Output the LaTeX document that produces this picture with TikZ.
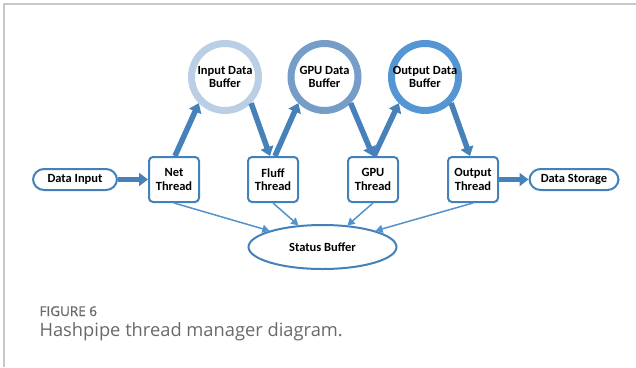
\documentclass[tikz,border=0pt]{standalone}
\usepackage{fontspec}
\setmainfont{Carlito}
\newfontfamily\capfont{Open Sans}
\newfontfamily\capheadfont{Open Sans}[FakeBold=1.2]
\usetikzlibrary{arrows.meta,shapes.geometric}

\definecolor{frameGray}{RGB}{200,200,200}
\definecolor{edgeBlue}{RGB}{68,128,186}
\definecolor{flowBlue}{RGB}{70,130,185}
\definecolor{linkBlue}{RGB}{82,146,206}
\definecolor{ringA}{RGB}{186,206,230}
\definecolor{ringB}{RGB}{118,156,200}
\definecolor{ringC}{RGB}{84,150,212}
\definecolor{capGray}{RGB}{105,105,105}

\tikzset{
  label/.style={font=\bfseries\fontsize{12.5}{13.5}\selectfont, text=black, align=center},
  threadbox/.style={label, draw=edgeBlue, line width=2pt, rounded corners=4pt,
    fill=white, minimum width=50pt, minimum height=45pt, inner sep=0pt},
  endpoint/.style={label, draw=edgeBlue, line width=2pt, rounded corners=11pt,
    fill=white, minimum height=21pt, inner sep=0pt},
  buffer/.style={label, circle, line width=7pt, fill=white,
    minimum size=67pt, inner xsep=-14pt, inner ysep=0pt},
  status/.style={label, ellipse, draw=edgeBlue, line width=2pt, fill=white,
    minimum width=148pt, minimum height=44pt, inner sep=0pt},
  flow/.style={draw=flowBlue, line width=5.5pt,
    -{Triangle[length=9pt,width=13pt]}},
  link/.style={draw=linkBlue, line width=1.5pt,
    -{Triangle[length=7pt,width=8pt]}}
}

\begin{document}
\begin{tikzpicture}[x=1pt,y=-1pt]
  \useasboundingbox (0,0) rectangle (636,367);

  % page frame
  \draw[frameGray, line width=1.2pt] (4,367) -- (4,4) -- (636,4);

  % data buffers
  \node[buffer, draw=ringA] (inbuf)  at (225,77)   {Input Data\\Buffer};
  \node[buffer, draw=ringB] (gpubuf) at (324.5,77) {GPU Data\\Buffer};
  \node[buffer, draw=ringC] (outbuf) at (425,77)   {Output Data\\Buffer};

  % threads
  \node[threadbox] (net)   at (174,179.5) {Net\\Thread};
  \node[threadbox] (fluff) at (273,179.5) {Fluff\\Thread};
  \node[threadbox] (gpu)   at (373,179.5) {GPU\\Thread};
  \node[threadbox] (out)   at (473,179.5) {Output\\Thread};

  % source and sink
  \node[endpoint, minimum width=84pt] (din)  at (75,179.5)  {Data Input};
  \node[endpoint, minimum width=89pt] (dst)  at (574,179.5) {Data Storage};

  % status buffer
  \node[status] (stat) at (322.5,247) {Status Buffer};

  % data flow
  \draw[flow] (din.east) -- (net.west);
  \draw[flow] (out.east) -- (dst.west);
  \draw[flow] ([xshift=1pt]net.north)   -- (inbuf.225);
  \draw[flow] (inbuf.315)               -- ([xshift=-3pt]fluff.north);
  \draw[flow] ([xshift=2pt]fluff.north) -- (gpubuf.225);
  \draw[flow] (gpubuf.315)              -- ([xshift=0pt]gpu.north);
  \draw[flow] ([xshift=1pt]gpu.north)   -- (outbuf.225);
  \draw[flow] (outbuf.315)              -- ([xshift=-3pt]out.north);

  % status reporting
  \draw[link] (net.south)   -- (stat.163);
  \draw[link] (fluff.south) -- (stat.138);
  \draw[link] (gpu.south)   -- (stat.41);
  \draw[link] (out.south)   -- (stat.17);

  % caption
  \node[anchor=base west, font=\capheadfont\fontsize{13.5}{15}\selectfont, text=capGray]
    (fig) at (36,316) {FIGURE 6};
  \node[anchor=base west, font=\capfont\fontsize{18.3}{20}\selectfont, text=capGray]
    (cap) at (36,336) {Hashpipe thread manager diagram.};
\end{tikzpicture}
\end{document}
